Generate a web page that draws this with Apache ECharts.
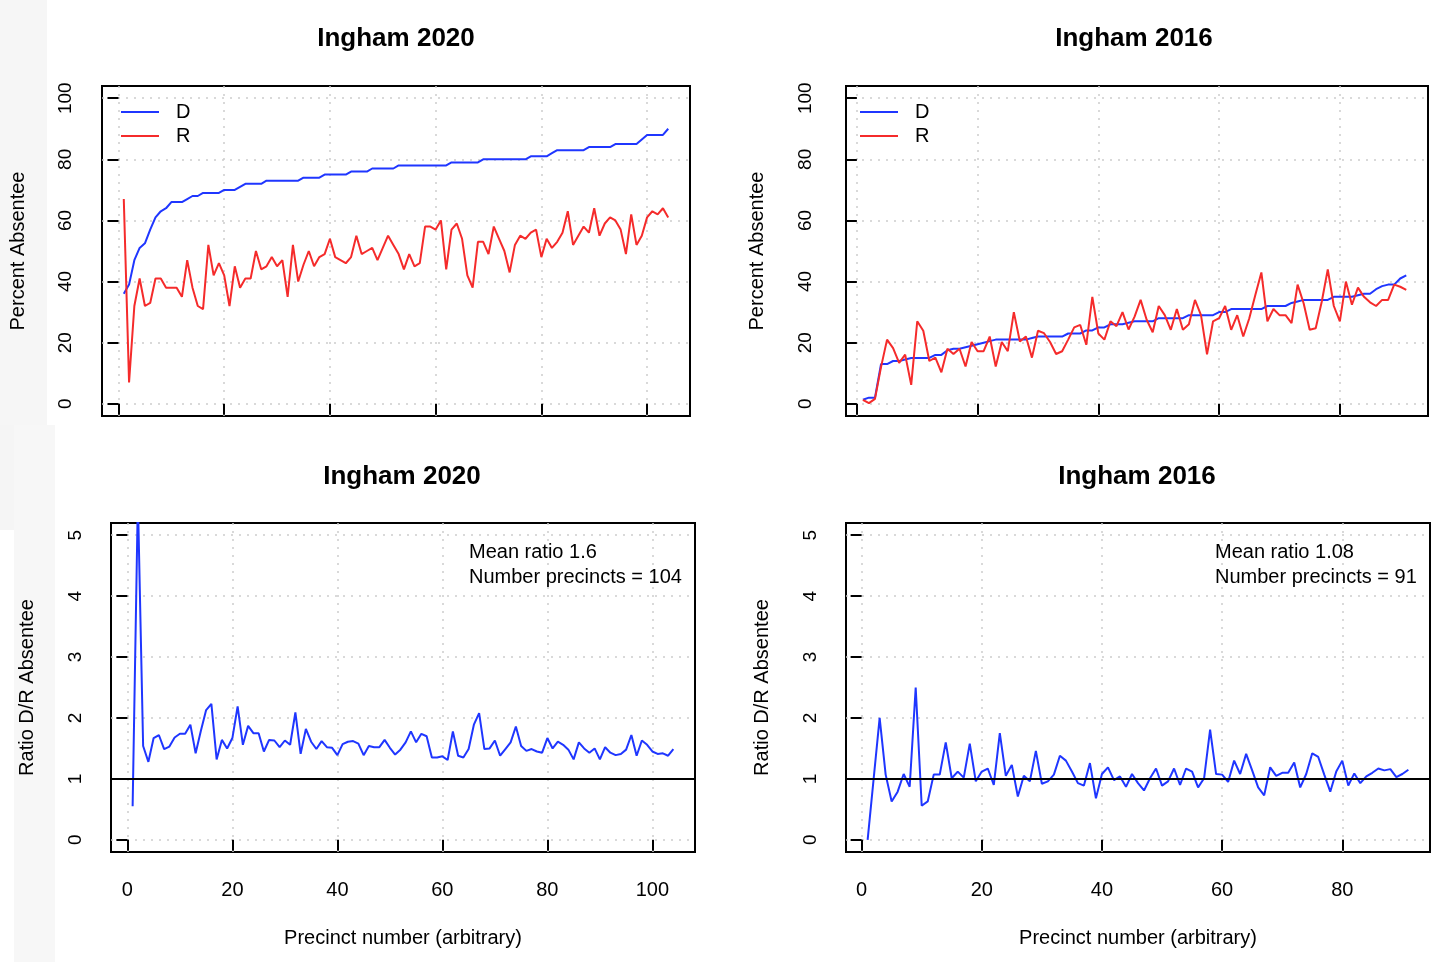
<!DOCTYPE html>
<html><head><meta charset="utf-8">
<script src="https://cdn.jsdelivr.net/npm/echarts@6/dist/echarts.min.js"></script>
<style>html,body{margin:0;padding:0;background:#fff}#c{width:1436px;height:962px}</style>
</head><body><div id="c"></div>
<script>
// ---- data ----
const dem2020 = [36,39,47,51,52.5,57,61,63,64,66, 66,66,67,68,68,69,69,69,69,70, 70,70,71,72,72,72,72,73,73,73,
  73,73,73,73,74,74,74,74,75,75, 75,75,75,76,76,76,76,77,77,77, 77,77,78,78,78,78,78,78,78,78,
  78,78,79,79,79,79,79,79,80,80, 80,80,80,80,80,80,80,81,81,81, 81,82,83,83,83,83,83,83,84,84,
  84,84,84,85,85,85,85,85,86.5,88, 88,88,88,90];
const rep2020 = [67,7,32,41,32,33,41,41,38,38, 38,35,47,38,32,31,52,42,46,42, 32,45,38,41,41,50,44,45,48,45,
  47,35,52,40,45.5,50,45,48,49,54, 48,47,46,48,55,49,50,51,47,51, 55,52,49,44,49,45,46,58,58,57,
  60,44,57,59,54,42,38,53,53,49, 58,54,50,43,52,55,54,56,57,48, 54,51,53,56,63,52,55,58,56,64,
  55,59,61,60,57,49,62,52,55,61, 63,62,64,61];
const ratio2020 = [0.55,5.6,1.54,1.28,1.67,1.72,1.49,1.53,1.68,1.74, 1.74,1.89,1.42,1.79,2.13,2.23,1.32,1.64,1.50,1.67,
  2.19,1.56,1.87,1.75,1.75,1.45,1.64,1.63,1.52,1.63, 1.56,2.09,1.41,1.82,1.61,1.49,1.62,1.52,1.51,1.39,
  1.57,1.61,1.62,1.58,1.39,1.54,1.52,1.52,1.64,1.51, 1.40,1.48,1.60,1.78,1.60,1.74,1.70,1.35,1.35,1.37,
  1.31,1.78,1.38,1.35,1.49,1.89,2.08,1.49,1.50,1.63, 1.38,1.49,1.60,1.86,1.54,1.46,1.49,1.45,1.43,1.67,
  1.50,1.61,1.56,1.48,1.32,1.60,1.50,1.43,1.50,1.32, 1.52,1.43,1.39,1.41,1.48,1.72,1.38,1.63,1.56,1.45,
  1.41,1.42,1.38,1.49];
const dem2016 = [1.3,2,2,13,13,14,14,14.5,15,15, 15,15,16,16,17.5,18,18,18.5,19,19.5, 20,20.5,21,21,21,21,21,21,21.5,22,
  22,22,22,22,23,23,23,24,24,25, 25,26,26,26,26.5,27,27,27,27,28, 28,28,28,28,29,29,29,29,29,30,
  30,31,31,31,31,31,31,32,32,32, 32,33,33.5,34,34,34,34,34,35,35, 35,35,35.5,36,36,37.5,38.5,39,39,41, 42];
const rep2016 = [1.3,0.2,1.6,12,21,18.2,13.4,16.1,6.2,27, 23.9,14,15.1,10.3,18,16.3,18,12.2,20.2,17.2,
  17.2,22,12.2,20.2,17.2,30,20.4,22,15.1,23.9, 23.1,20.2,16.3,17.2,21,25,25.8,19.3,35,23,
  21,27,25.4,30,24.3,28.5,34,27.5,23.4,32, 29,24.2,31,24.2,26,34,29,16.2,27,28,
  32,24.2,29,22,28,35.6,43,27,31,29, 29,26.4,39,32.9,24.2,24.7,33.4,44,32,27,
  40,32.4,38,35,33.2,32,34,34,39,38.3, 37.3];
const ratio2016 = [0,1.0,2.0,1.07,0.63,0.79,1.08,0.87,2.5,0.56, 0.63,1.07,1.07,1.6,1.01,1.12,1.02,1.58,0.96,1.12,
  1.17,0.90,1.75,1.05,1.23,0.71,1.05,0.96,1.46,0.92, 0.96,1.07,1.38,1.30,1.12,0.93,0.89,1.26,0.68,1.08,
  1.19,0.98,1.04,0.87,1.08,0.93,0.81,1.01,1.17,0.89, 0.96,1.17,0.90,1.17,1.12,0.86,1.01,1.81,1.08,1.07,
  0.95,1.30,1.08,1.41,1.14,0.86,0.73,1.19,1.05,1.10, 1.10,1.27,0.86,1.08,1.42,1.36,1.07,0.79,1.12,1.30,
  0.89,1.09,0.93,1.04,1.10,1.17,1.14,1.16,1.03,1.08, 1.15];
const xTicks2020 = [0,20,40,60,80,100];
const xTicks2016 = [0,20,40,60,80];
const yTicksPct = [0,20,40,60,80,100];
const yTicksRatio = [0,1,2,3,4,5];
const refRatio = 1;
const seriesNames = ['D','R'];
const titles = ['Ingham 2020','Ingham 2016'];
const notes2020 = ['Mean ratio 1.6','Number precincts = 104'];
const notes2016 = ['Mean ratio 1.08','Number precincts = 91'];

// ---- chart ----
const FONT = '"Liberation Sans", Arial, Helvetica, sans-serif';
const BLUE = '#1f36ff', RED = '#f52b2b';
const pts = arr => arr.map((v, i) => [i + 1, v]);
const gridStyle = {show:true, lineStyle:{color:'#cdcdcd', type:[2,6], width:1.5}};
const tickStyle = {color:'#000', width:2};

function xAx(gi, min, max, ticks, labels, name) {
  return {type:'value', gridIndex:gi, min, max,
    axisLine:{show:false},
    axisTick:{show:true, length:11, customValues:ticks, lineStyle:tickStyle},
    axisLabel:{show:labels, customValues:ticks, margin:28, fontSize:20, color:'#000', fontFamily:FONT},
    splitLine:gridStyle,
    name:name, nameLocation:'middle', nameGap:76,
    nameTextStyle:{fontSize:20, color:'#000', fontFamily:FONT}};
}
function yAx(gi, min, max, ticks, name, gap, margin) {
  return {type:'value', gridIndex:gi, min, max, position:'left',
    axisLine:{show:false},
    axisTick:{show:true, length:11, customValues:ticks, lineStyle:tickStyle},
    axisLabel:{customValues:ticks, rotate:90, margin:margin, fontSize:19, color:'#000', fontFamily:FONT},
    splitLine:gridStyle,
    name:name, nameLocation:'middle', nameRotate:90, nameGap:gap,
    nameTextStyle:{fontSize:20, color:'#000', fontFamily:FONT}};
}
function lineS(name, xi, data, color) {
  return {type:'line', name, xAxisIndex:xi, yAxisIndex:xi, data:pts(data), showSymbol:false, symbol:'none',
    lineStyle:{width:2, color}, itemStyle:{color}, animation:false, z:3};
}
const refLine = {silent:true, symbol:['none','none'], label:{show:false}, animation:false,
  lineStyle:{color:'#000', width:2, type:'solid'}, data:[{yAxis:refRatio}]};
const titleStyle = {fontSize:26, fontWeight:'bold', color:'#000', fontFamily:FONT};
const noteStyle = {fontSize:20, fontWeight:'normal', color:'#000', fontFamily:FONT, lineHeight:25};
const legendBase = {orient:'vertical', data:seriesNames, icon:'rect', itemWidth:38, itemHeight:2, itemGap:4,
  textStyle:{fontSize:20, color:'#000', fontFamily:FONT, lineHeight:20, padding:[0,0,0,12]}, selectedMode:false};

const option = {
  backgroundColor:'#fff',
  animation:false,
  graphic:[
    {type:'rect', z:-10, shape:{x:0, y:0, width:47, height:425}, style:{fill:'#f6f6f6'}},
    {type:'rect', z:-10, shape:{x:14, y:425, width:41, height:537}, style:{fill:'#f7f7f7'}},
    {type:'rect', z:-10, shape:{x:0, y:425, width:14, height:105}, style:{fill:'#f5f5f5'}}
  ],
  title:[
    {text:titles[0], left:391, top:21, textAlign:'center', textStyle:titleStyle},
    {text:titles[1], left:1129, top:21, textAlign:'center', textStyle:titleStyle},
    {text:titles[0], left:397, top:459, textAlign:'center', textStyle:titleStyle},
    {text:titles[1], left:1132, top:459, textAlign:'center', textStyle:titleStyle}, 
    {text:notes2020.join('\n'), left:464, top:535, textStyle:noteStyle},
    {text:notes2016.join('\n'), left:1210, top:535, textStyle:noteStyle}
  ],
  legend:[
    Object.assign({left:116, top:97}, legendBase),
    Object.assign({left:855, top:97}, legendBase)
  ],
  grid:[
    {left:102, top:86, width:588, height:330, show:true, borderColor:'#000', borderWidth:2, backgroundColor:'transparent'},
    {left:846, top:86, width:582, height:330, show:true, borderColor:'#000', borderWidth:2, backgroundColor:'transparent'},
    {left:111, top:523, width:584, height:329, show:true, borderColor:'#000', borderWidth:2, backgroundColor:'transparent'},
    {left:846, top:523, width:584, height:329, show:true, borderColor:'#000', borderWidth:2, backgroundColor:'transparent'}
  ],
  xAxis:[
    xAx(0, -3.12, 108.12, xTicks2020, false, ''),
    xAx(1, -1.8, 94.6, xTicks2016, false, ''),
    xAx(2, -3.12, 108.12, xTicks2020, true, 'Precinct number (arbitrary)'),
    xAx(3, -2.6, 94.6, xTicks2016, true, 'Precinct number (arbitrary)')
  ],
  yAxis:[
    yAx(0, -4, 104, yTicksPct, 'Percent Absentee', 74, 27),
    yAx(1, -4, 104, yTicksPct, 'Percent Absentee', 79, 31),
    yAx(2, -0.2, 5.2, yTicksRatio, 'Ratio D/R Absentee', 74, 26),
    yAx(3, -0.2, 5.2, yTicksRatio, 'Ratio D/R Absentee', 74, 26)
  ],
  series:[
    lineS(seriesNames[0], 0, dem2020, BLUE),
    lineS(seriesNames[1], 0, rep2020, RED),
    lineS(seriesNames[0], 1, dem2016, BLUE),
    lineS(seriesNames[1], 1, rep2016, RED),
    Object.assign(lineS('ratio2020', 2, ratio2020, BLUE), {markLine:refLine}),
    Object.assign(lineS('ratio2016', 3, ratio2016, BLUE), {markLine:refLine})
  ]
};
const chart = echarts.init(document.getElementById('c'));
chart.setOption(option);
</script></body></html>
